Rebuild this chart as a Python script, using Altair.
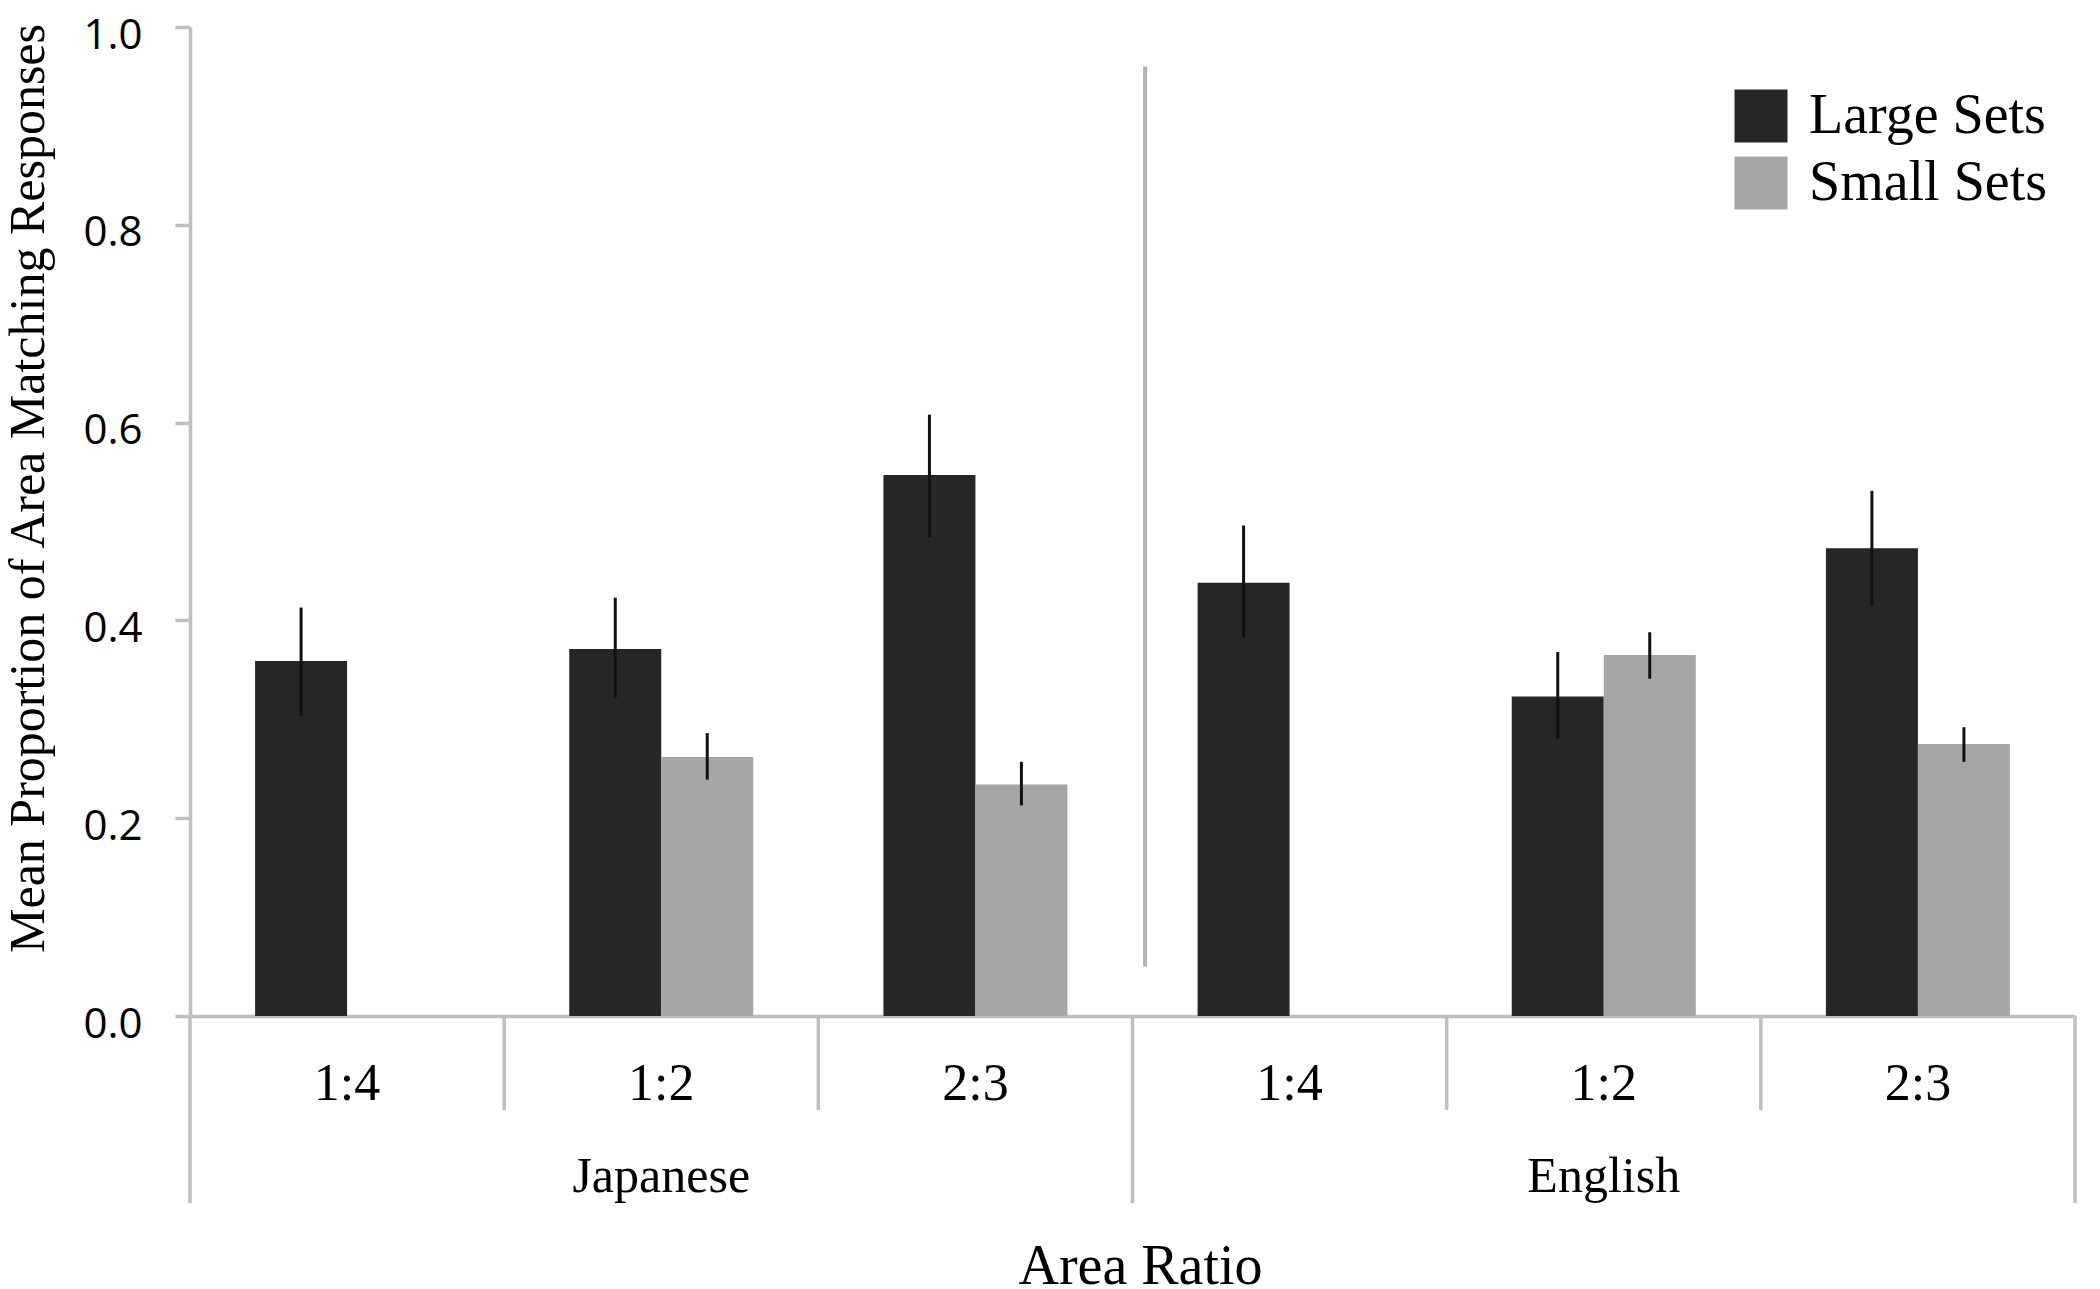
import altair as alt
import pandas as pd

# ---- data ----
groups = ["Japanese", "English"]
ratios = ["1:4", "1:2", "2:3"]
series = ["Large Sets", "Small Sets"]
colors = ["#262626", "#a6a6a6"]

large_mean = [0.359, 0.371, 0.547, 0.438, 0.323, 0.473]
large_lo = [0.303, 0.322, 0.484, 0.383, 0.280, 0.414]
large_hi = [0.413, 0.423, 0.608, 0.496, 0.368, 0.531]
small_mean = [None, 0.262, 0.234, None, 0.365, 0.275]
small_lo = [None, 0.239, 0.213, None, 0.341, 0.257]
small_hi = [None, 0.286, 0.257, None, 0.388, 0.292]

y_ticks = [0.0, 0.2, 0.4, 0.6, 0.8, 1.0]
separator_from = [0.05]
separator_to = [0.96]

# ---- tables ----
keys = [f"{g} {r}" for g in groups for r in ratios]
rows = []
for i, k in enumerate(keys):
    rows.append({"key": k, "series": series[0], "mean": large_mean[i], "lo": large_lo[i], "hi": large_hi[i]})
    if small_mean[i] is not None:
        rows.append({"key": k, "series": series[1], "mean": small_mean[i], "lo": small_lo[i], "hi": small_hi[i]})
bars_df = pd.DataFrame(rows)

cat_df = pd.DataFrame({"key": keys, "label": [r for g in groups for r in ratios]})
grp_df = pd.DataFrame({"key": [f"{g} {ratios[1]}" for g in groups], "label": groups})
short_df = pd.DataFrame({"key": [f"{g} {r}" for g in groups for r in ratios[1:]]})
long_df = pd.DataFrame({"key": [f"{g} {ratios[0]}" for g in groups]})
end_df = pd.DataFrame({"key": [keys[-1]]})
sep_df = pd.DataFrame({"key": [f"{groups[1]} {ratios[0]}"], "y0": separator_from, "y1": separator_to})

W, H = 1885, 989
AX = "#bfbfbf"
SERIF = "Liberation Serif"

x_scale = alt.Scale(domain=keys, paddingInner=0, paddingOuter=0)
xo_scale = alt.Scale(domain=series, paddingInner=0, paddingOuter=0.7075)
y_scale = alt.Scale(domain=[0, 1], nice=False)

x_axis = alt.Axis(labels=False, ticks=False, domain=True, domainColor=AX, domainWidth=3.5,
                  grid=False, title="Area Ratio", titleFont=SERIF, titleFontSize=56,
                  titleFontWeight="normal", titleColor="#000", titleBaseline="alphabetic",
                  titleY=267, titleX=950)
y_axis = alt.Axis(values=y_ticks, format=".1f", grid=False, domainColor=AX, domainWidth=3.5,
                  tickColor=AX, tickWidth=3.5, tickSize=15, labelFont="Open Sans",
                  labelFontSize=42, labelColor="#000", labelPadding=33, labelBaseline="middle",
                  labelOffset=8, title="Mean Proportion of Area Matching Responses",
                  titleFont=SERIF, titleFontSize=50, titleFontWeight="normal", titleColor="#000",
                  titleX=-147, titleY=461, titleBaseline="alphabetic", titleAngle=270)

def X(band=None):
    if band is None:
        return alt.X("key:N", scale=x_scale, axis=x_axis)
    return alt.X("key:N", scale=x_scale, axis=x_axis, bandPosition=band)

sep = alt.Chart(sep_df).mark_rule(color="#b3b3b3", strokeWidth=4).encode(
    x=X(0.04), y=alt.Y("y0:Q", scale=y_scale, axis=y_axis), y2="y1:Q")

bars = alt.Chart(bars_df).mark_bar().encode(
    x=X(),
    xOffset=alt.XOffset("series:N", scale=xo_scale),
    y=alt.Y("mean:Q", scale=y_scale, axis=y_axis),
    color=alt.Color("series:N", scale=alt.Scale(domain=series, range=colors),
                    legend=alt.Legend(title=None, orient="none", legendX=1543, legendY=61,
                                      symbolType="square", symbolSize=2809, symbolStrokeWidth=0,
                                      labelFont=SERIF, labelFontSize=56, labelColor="#000",
                                      labelOffset=20, rowPadding=11, padding=0, labelLimit=500)))

errs = alt.Chart(bars_df).mark_rule(color="#111111", strokeWidth=3).encode(
    x=X(),
    xOffset=alt.XOffset("series:N", scale=xo_scale),
    y=alt.Y("lo:Q", scale=y_scale, axis=y_axis), y2="hi:Q")

short_div = alt.Chart(short_df).mark_rule(color=AX, strokeWidth=3.5).encode(
    x=X(0), y=alt.value(H), y2=alt.value(H + 94))
long_div = alt.Chart(long_df).mark_rule(color=AX, strokeWidth=3.5).encode(
    x=X(0), y=alt.value(H), y2=alt.value(H + 187))
end_div = alt.Chart(end_df).mark_rule(color=AX, strokeWidth=3.5).encode(
    x=X(1), y=alt.value(H), y2=alt.value(H + 187))

cat_txt = alt.Chart(cat_df).mark_text(font=SERIF, fontSize=52, baseline="alphabetic",
                                      align="center", color="#000").encode(
    x=X(), y=alt.value(H + 84), text="label:N")
grp_txt = alt.Chart(grp_df).mark_text(font=SERIF, fontSize=50, baseline="alphabetic",
                                      align="center", color="#000").encode(
    x=X(), y=alt.value(H + 176), text="label:N")

chart = alt.layer(sep, bars, errs, short_div, long_div, end_div, cat_txt, grp_txt).properties(
    width=W, height=H,
    autosize=alt.AutoSizeParams(type="none"),
    padding={"left": 182, "top": 19, "right": 17, "bottom": 281},
    background="white",
).configure_view(stroke=None)

chart.save("out.html", embed_options={"renderer": "svg", "actions": False})
